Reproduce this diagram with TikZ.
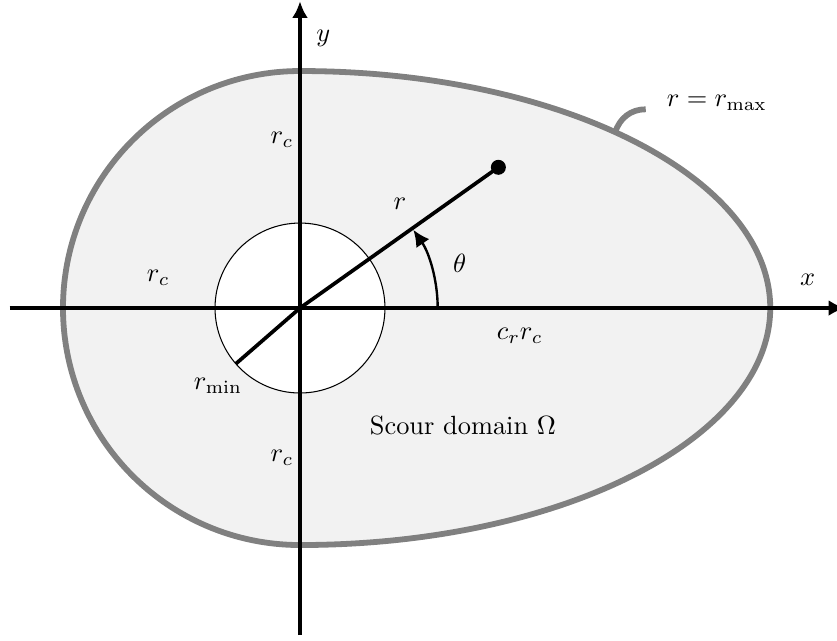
\documentclass[tikz,border=0pt]{standalone}
\usepackage{amsmath}
\usepackage{tikz}
\usetikzlibrary{arrows.meta, positioning}

\begin{document}
\begin{tikzpicture}[
            scourzone/.style={draw=gray, fill=gray!10, line width=2.2pt},
            hole/.style     ={draw=black, fill=white, line width=0.4pt},
            axisarr/.style  ={-{Latex[length=2.2mm, width=2.1mm]}, line width=1.25pt},
            radline/.style  ={line width=1.4pt},
            angarr/.style   ={-{Latex[length=2.2mm, width=2.1mm]}, line width=0.9pt},
            leader/.style   ={draw=gray, line width=2.2pt},
            dot/.style      ={circle, fill=black, inner sep=0pt, minimum size=0.2cm},
            lbl/.style      ={inner sep=1pt}
        ]
            \useasboundingbox (-4,-4.427) rectangle (7.16,4.107);

            % --- Dominio (media circunferencia + media elipse) ---
            \draw[scourzone] (0,3.16) arc[start angle=90, end angle=270, radius=3.16]
                          arc[start angle=-90, end angle=90, x radius=6.27, y radius=3.16] -- cycle;
            \draw[hole] (0,0) circle[radius=1.133];

            % --- Ejes ---
            \coordinate (O)    at (0,0);
            \coordinate (xmin) at (-3.87,0);
            \coordinate (xmax) at (7.27,0);
            \coordinate (ymin) at (0,-4.36);
            \coordinate (ymax) at (0,4.09);
            \draw[axisarr] (xmin) -- (xmax);
            \draw[axisarr] (ymin) -- (ymax);
            \node[lbl] (xlab) at (6.77,0.37) {$x$};
            \node[lbl] (ylab) at (0.31,3.6)  {$y$};

            % --- Radios ---
            \node[dot] (tip) at (35.35:3.243) {};
            \coordinate (rminend) at (221:1.133);
            \draw[radline] (O) -- (tip.center);
            \draw[radline] (O) -- (rminend);
            \coordinate (thstart) at (1.836,0);
            \draw[angarr] (thstart) arc[start angle=0, end angle=34.6, radius=1.836];

            % --- Etiquetas ---
            \node[lbl] (rlab)    at (1.333,1.387)  {$r$};
            \node[lbl] (thlab)   at (2.13,0.6)     {$\theta$};
            \node[lbl] (rcup)    at (-0.24,2.24)   {$r_c$};
            \node[lbl] (rcleft)  at (-1.89,0.4)    {$r_c$};
            \node[lbl] (rcdown)  at (-0.24,-2.0)   {$r_c$};
            \node[lbl] (crrc)    at (2.93,-0.373)  {$c_r r_c$};
            \node[lbl] (rminlab) at (-1.093,-1.04) {$r_{\min}$};
            \node[lbl] (omega)   at (2.173,-1.56)  {Scour domain $\Omega$};

            % --- Borde exterior ---
            \coordinate (edge) at (4.2,2.339);
            \node[lbl, anchor=west] (rmax) at (4.85,2.73) {$r = r_{\max}$};
            \draw[leader] (edge) to[out=72, in=180] ([xshift=-2.4mm, yshift=-0.8mm]rmax.west);
        \end{tikzpicture}
\end{document}
